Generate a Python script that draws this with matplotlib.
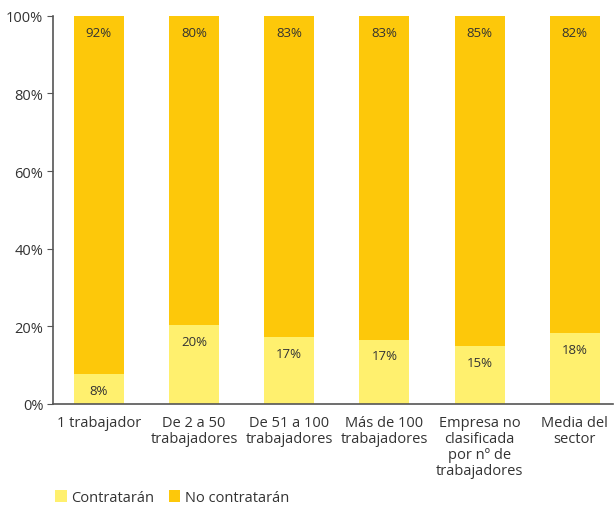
import numpy as np
import matplotlib
matplotlib.use('Agg')
import matplotlib.pyplot as plt

plt.rcParams['font.family'] = ['Open Sans', 'DejaVu Sans']

categories = ['1 trabajador', 'De 2 a 50\ntrabajadores', 'De 51 a 100\ntrabajadores',
              'Más de 100\ntrabajadores', 'Empresa no\nclasificada\npor nº de\ntrabajadores',
              'Media del\nsector']
contrataran = [7.7, 20.4, 17.3, 16.6, 14.9, 18.3]
no_contrataran = [92.3, 79.6, 82.7, 83.4, 85.1, 81.7]
series_names = ['Contratarán', 'No contratarán']

LIGHT = '#FFF06E'
DARK = '#FDC80A'
TEXT = '#333333'

fig = plt.figure(figsize=(6.14, 5.10), dpi=100)
ax = fig.add_axes([0.0863, 0.206, 0.912, 0.761])

x = np.arange(len(categories))
b1 = ax.bar(x, contrataran, width=0.525, color=LIGHT, label=series_names[0])
b2 = ax.bar(x, no_contrataran, width=0.525, bottom=contrataran, color=DARK, label=series_names[1])

for i in range(len(categories)):
    ax.text(x[i], contrataran[i] - 4.2, '%d%%' % round(contrataran[i]),
            ha='center', va='center', fontsize=9.5, color=TEXT)
    ax.text(x[i], contrataran[i] + no_contrataran[i] - 4.2, '%d%%' % round(no_contrataran[i]),
            ha='center', va='center', fontsize=9.5, color=TEXT)

ax.set_xlim(-0.48, 5.4)
ax.set_ylim(0, 100)
ax.set_yticks([0, 20, 40, 60, 80, 100])
ax.set_yticklabels(['0%', '20%', '40%', '60%', '80%', '100%'])
ax.set_xticks(x)
ax.set_xticklabels(categories, linespacing=1.1)
ax.tick_params(axis='x', length=0, labelsize=10.5, colors=TEXT, pad=8)
ax.tick_params(axis='y', length=4, labelsize=10.5, colors=TEXT, pad=3, color='#555555')
for s in ['top', 'right']:
    ax.spines[s].set_visible(False)
for s in ['left', 'bottom']:
    ax.spines[s].set_color('#555555')
    ax.spines[s].set_linewidth(1.2)

fig.legend(handles=[b1, b2], loc='lower left', bbox_to_anchor=(0.068, -0.018), ncol=2,
           frameon=False, handlelength=0.8, handleheight=0.8, handletextpad=0.3,
           columnspacing=1.0, fontsize=10.5, labelcolor=TEXT)

fig.savefig('out.png', dpi=100)
